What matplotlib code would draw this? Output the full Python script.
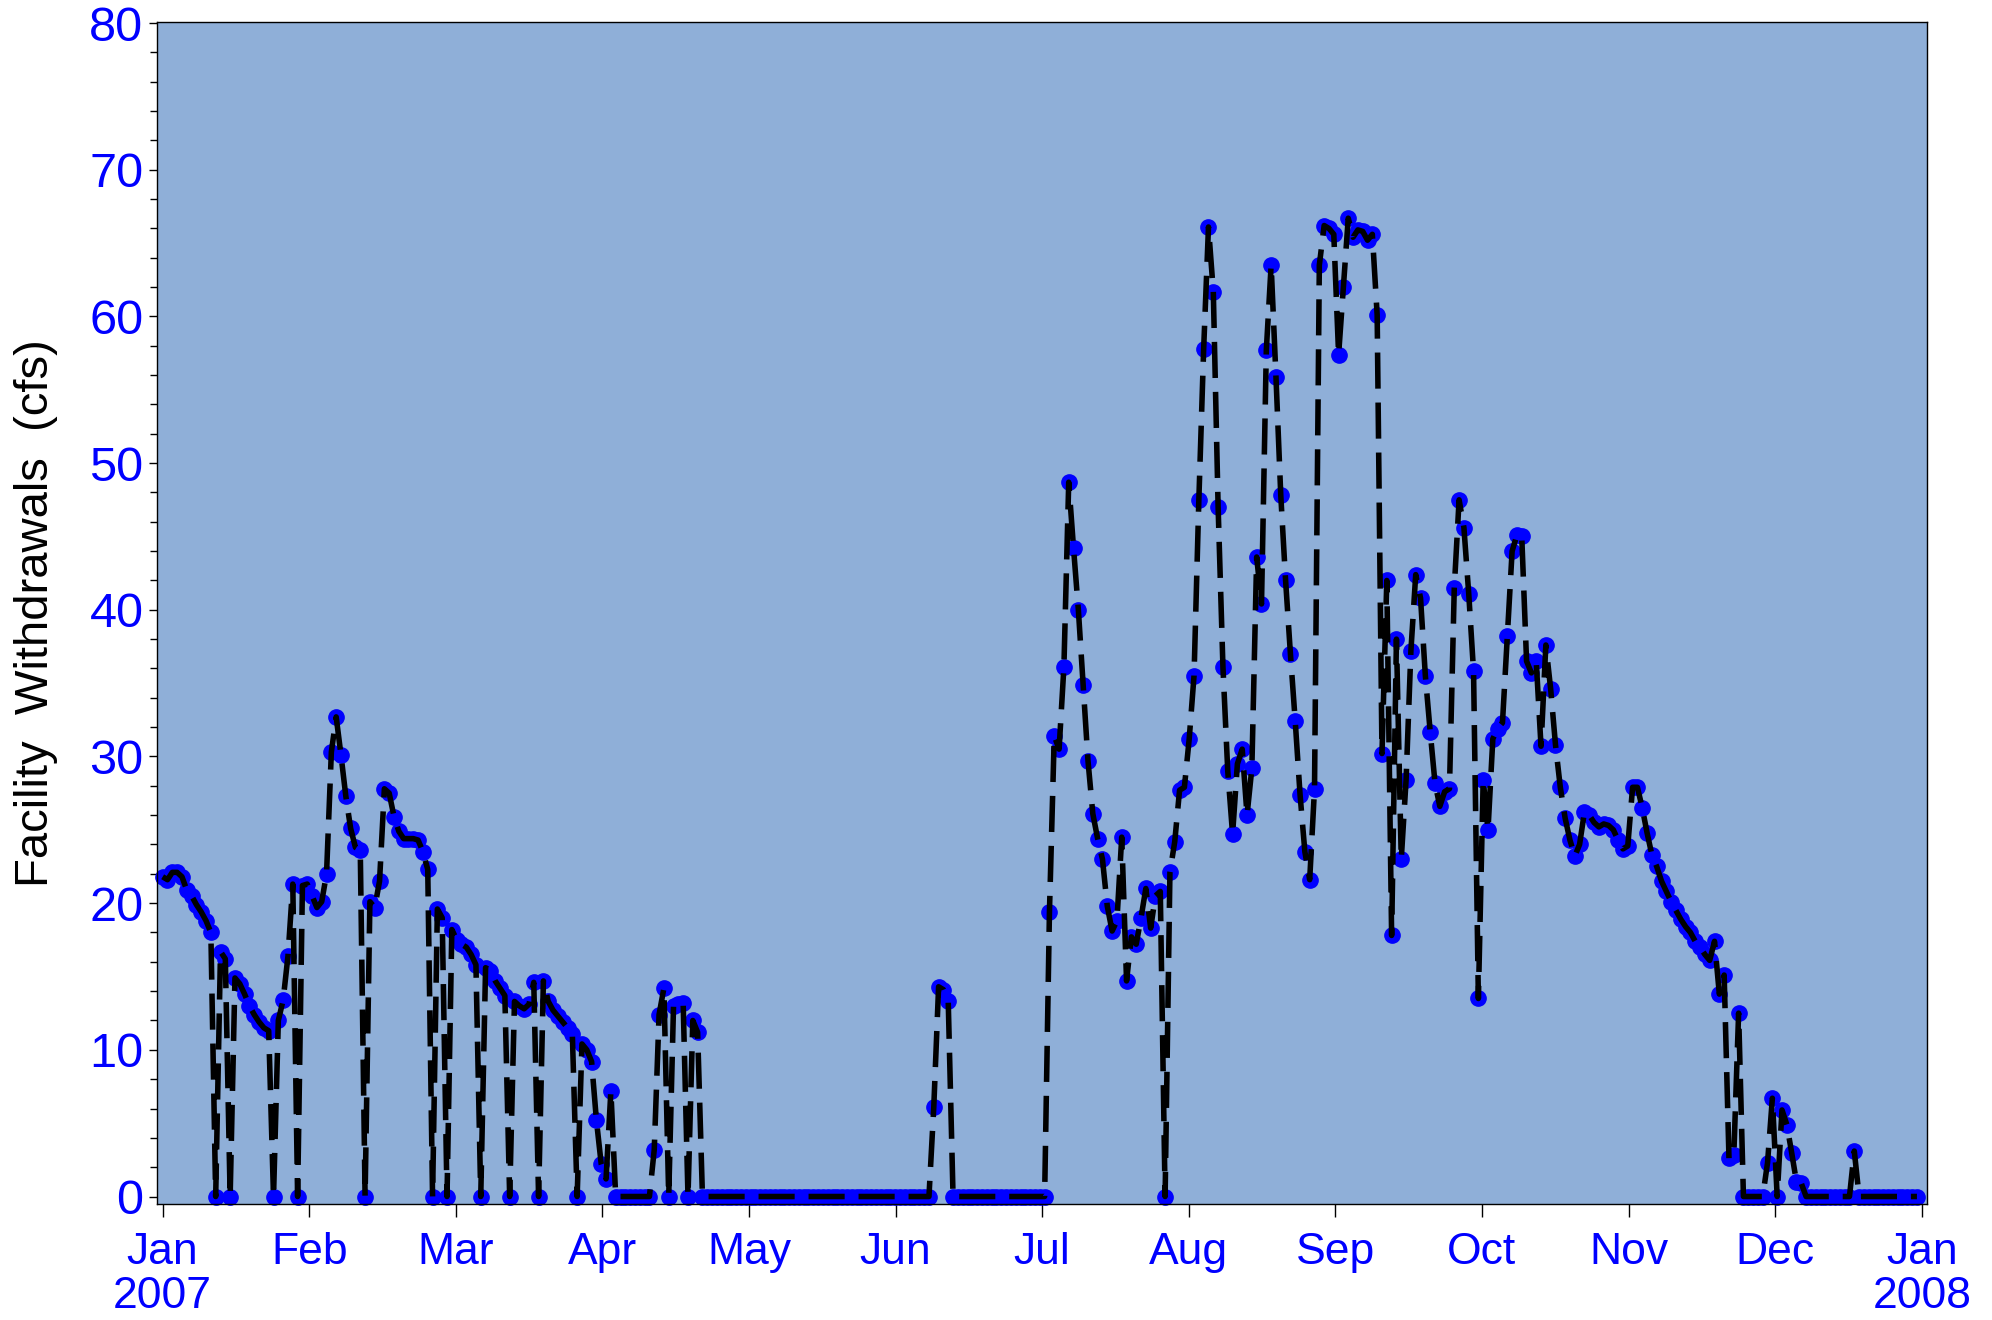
import numpy as np
import matplotlib
matplotlib.use("Agg")
import matplotlib.pyplot as plt

# daily facility withdrawals (cfs), 2007, one list per month
jan = [21.8, 21.6, 22.1, 22.1, 21.8, 20.9, 20.5, 19.9, 19.4, 18.8, 18.0, 0, 16.7, 16.2, 0,
       14.9, 14.5, 13.8, 13.0, 12.4, 11.9, 11.5, 11.3, 0, 12.0, 13.4, 16.4, 21.3, 0, 21.2, 21.3]
feb = [20.5, 19.7, 20.1, 22.0, 30.3, 32.7, 30.1, 27.3, 25.1, 23.8, 23.6, 0, 20.1, 19.7,
       21.5, 27.8, 27.5, 25.9, 24.9, 24.4, 24.4, 24.4, 24.3, 23.5, 22.3, 0, 19.6, 19.0]
mar = [0, 18.2, 17.5, 17.2, 17.0, 16.5, 15.8, 0, 15.6, 15.4, 14.7, 14.2, 13.7, 0, 13.3, 13.0,
       12.8, 13.1, 14.6, 0, 14.7, 13.3, 12.7, 12.3, 11.9, 11.5, 11.1, 0, 10.4, 10.0, 9.2]
apr = [5.2, 2.2, 1.2, 7.2, 0, 0, 0, 0, 0, 0, 0, 0, 3.2, 12.4, 14.2, 0, 13.0, 13.1, 13.2, 0,
       12.0, 11.2, 0, 0, 0, 0, 0, 0, 0, 0]
may = [0] * 31
jun = [0] * 9 + [6.1, 14.3, 14.1, 13.3] + [0] * 17
jul = [0, 0, 0, 19.4, 31.4, 30.5, 36.1, 48.7, 44.2, 40.0, 34.9, 29.7, 26.1, 24.4, 23.0, 19.8,
       18.1, 18.8, 24.5, 14.7, 17.7, 17.2, 19.0, 21.0, 18.3, 20.5, 20.8, 0, 22.1, 24.2, 27.7]
aug = [27.9, 31.2, 35.5, 47.5, 57.8, 66.1, 61.7, 47.0, 36.1, 29.0, 24.7, 29.5, 30.5, 26.0,
       29.2, 43.6, 40.4, 57.7, 63.5, 55.9, 47.8, 42.0, 37.0, 32.4, 27.4, 23.5, 21.6, 27.8,
       63.5, 66.2, 66.0]
sep = [65.6, 57.4, 62.0, 66.7, 65.4, 65.9, 65.8, 65.2, 65.6, 60.1, 30.2, 42.0, 17.8, 38.0,
       23.0, 28.4, 37.2, 42.4, 40.8, 35.5, 31.7, 28.2, 26.6, 27.6, 27.8, 41.5, 47.5, 45.6,
       41.1, 35.8]
oct_ = [13.5, 28.4, 25.0, 31.2, 31.9, 32.3, 38.2, 44.0, 45.1, 45.0, 36.5, 35.7, 36.5, 30.7,
        37.6, 34.6, 30.8, 27.9, 25.8, 24.3, 23.2, 24.0, 26.2, 26.0, 25.5, 25.2, 25.4, 25.3,
        25.0, 24.3, 23.7]
nov = [23.9, 27.9, 27.9, 26.5, 24.8, 23.3, 22.5, 21.5, 20.8, 20.1, 19.5, 18.9, 18.4, 18.0,
       17.4, 17.0, 16.5, 16.1, 17.4, 13.8, 15.1, 2.6, 2.8, 12.5, 0, 0, 0, 0, 0, 2.3]
dec = [6.7, 0, 5.9, 4.9, 3.0, 1.0, 0.9] + [0] * 10 + [3.1] + [0] * 13

tick_labels = ['Jan\n2007', 'Feb', 'Mar', 'Apr', 'May', 'Jun', 'Jul', 'Aug', 'Sep',
               'Oct', 'Nov', 'Dec', 'Jan\n2008']

flow = np.array(jan + feb + mar + apr + may + jun + jul + aug + sep + oct_ + nov + dec)
days = np.arange(len(flow))

plt.rcParams['font.family'] = ['Liberation Sans', 'DejaVu Sans']

fig = plt.figure(figsize=(19.92, 13.2), dpi=100)
ax = fig.add_axes([0.079, 0.088, 0.8884, 0.8956])
ax.set_facecolor('#8FAFD8')

ax.plot(days, flow, linestyle='none', marker='o', ms=11, mfc='#0000FF', mec='#0000FF',
        zorder=2, clip_on=False)
line, = ax.plot(days, flow, color='black', lw=4, zorder=3)
line.set_dashes((6.5, 2.5))

ax.set_xlim(-1.1, 366.1)
ax.set_ylim(-0.5, 80.1)

ax.set_xticks(np.arange(13) * 365 / 12)
ax.set_xticklabels(tick_labels, linespacing=1.12)
ax.set_yticks(range(0, 81, 10))
ax.set_yticks(range(0, 81, 2), minor=True)

ax.tick_params(axis='x', colors='black', labelcolor='#0000FF', labelsize=32, length=9, width=1, pad=11)
ax.tick_params(axis='y', which='major', colors='black', labelcolor='#0000FF', labelsize=35,
               length=6, width=1, pad=4)
ax.tick_params(axis='y', which='minor', length=5, width=1)

ax.set_ylabel('Facility  Withdrawals  (cfs)', fontsize=34, color='black')
ax.yaxis.set_label_coords(-0.056, 0.5)

for s in ax.spines.values():
    s.set_linewidth(1)
    s.set_color('black')

fig.savefig('out.png', dpi=100)
